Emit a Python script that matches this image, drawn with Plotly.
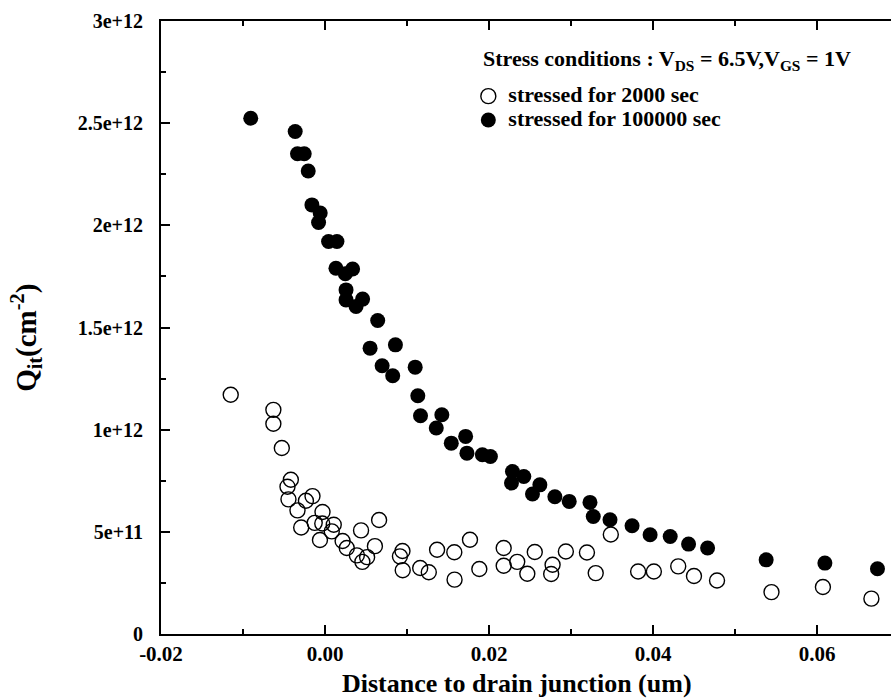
import plotly.graph_objects as go

# ---- data ----
x_2000 = [-0.01150, -0.00630, -0.00630, -0.00527, -0.00417, -0.00458, -0.00446, -0.00336,
          -0.00233, -0.00153, -0.00291, -0.00031, -0.00126, -0.00034, 0.00106, -0.00062,
          0.00082, 0.00214, 0.00265, 0.00439, 0.00659, 0.00608, 0.00388, 0.00455, 0.00513,
          0.00944, 0.00913, 0.00947, 0.01160, 0.01265, 0.01366, 0.01576, 0.01579, 0.01767,
          0.01881, 0.02178, 0.02178, 0.02343, 0.02466, 0.02557, 0.02774, 0.02757, 0.02936,
          0.03193, 0.03300, 0.03484, 0.03817, 0.04009, 0.04306, 0.04498, 0.04779, 0.05443,
          0.06070, 0.06661]
y_2000 = [1.171e12, 1.097e12, 1.029e12, 0.910e12, 0.755e12, 0.721e12, 0.659e12, 0.605e12,
          0.652e12, 0.675e12, 0.521e12, 0.597e12, 0.544e12, 0.541e12, 0.535e12, 0.460e12,
          0.502e12, 0.455e12, 0.421e12, 0.507e12, 0.558e12, 0.430e12, 0.385e12, 0.353e12, 0.376e12,
          0.406e12, 0.380e12, 0.312e12, 0.323e12, 0.302e12, 0.412e12, 0.400e12, 0.266e12, 0.461e12,
          0.318e12, 0.421e12, 0.334e12, 0.353e12, 0.295e12, 0.401e12, 0.339e12, 0.294e12, 0.404e12,
          0.399e12, 0.298e12, 0.487e12, 0.306e12, 0.306e12, 0.331e12, 0.284e12, 0.262e12, 0.205e12,
          0.230e12, 0.173e12]

x_100000 = [-0.00906, -0.00364, -0.00336, -0.00254, -0.00205, -0.00160, -0.00059, -0.00079,
            0.00043, 0.00145, 0.00133, 0.00247, 0.00336, 0.00256, 0.00256, 0.00458, 0.00378,
            0.00642, 0.00549, 0.00858, 0.00696, 0.00825, 0.01099, 0.01131, 0.01164, 0.01424,
            0.01356, 0.01539, 0.01714, 0.01730, 0.01918, 0.02016, 0.02285, 0.02273, 0.02423,
            0.02619, 0.02529, 0.02802, 0.02977, 0.03230, 0.03270, 0.03474, 0.03743, 0.03963,
            0.04208, 0.04432, 0.04664, 0.05378, 0.06094, 0.06735]
y_100000 = [2.524e12, 2.459e12, 2.350e12, 2.350e12, 2.266e12, 2.100e12, 2.060e12, 2.014e12,
            1.921e12, 1.921e12, 1.790e12, 1.763e12, 1.786e12, 1.684e12, 1.635e12, 1.639e12, 1.603e12,
            1.534e12, 1.399e12, 1.415e12, 1.313e12, 1.264e12, 1.306e12, 1.166e12, 1.068e12, 1.073e12,
            1.008e12, 0.934e12, 0.967e12, 0.885e12, 0.877e12, 0.869e12, 0.795e12, 0.739e12, 0.771e12,
            0.730e12, 0.685e12, 0.672e12, 0.649e12, 0.644e12, 0.575e12, 0.559e12, 0.530e12, 0.486e12,
            0.477e12, 0.440e12, 0.421e12, 0.363e12, 0.347e12, 0.319e12]

x_tickvals = [-0.02, 0.00, 0.02, 0.04, 0.06]
x_ticktext = ["-0.02", "0.00", "0.02", "0.04", "0.06"]
y_tickvals = [0, 5e11, 1e12, 1.5e12, 2e12, 2.5e12, 3e12]
y_ticktext = ["0", "5e+11", "1e+12", "1.5e+12", "2e+12", "2.5e+12", "3e+12"]

series_names = ["stressed for 2000 sec", "stressed for 100000 sec"]
legend_title = "Stress conditions : V<sub>DS</sub> = 6.5V,V<sub>GS</sub> = 1V"
x_title = "Distance to drain junction (um)"
y_title = "Q<sub>it</sub>(cm<sup>-2</sup>)"

FONT = "Liberation Serif"


def lbl(t):
    return "<span style='font-size:22px'>" + t + "</span>"


fig = go.Figure()
fig.add_trace(go.Scatter(
    x=x_2000, y=y_2000, mode="markers", name=lbl(series_names[0]),
    marker=dict(symbol="circle-open", size=15, color="black", line=dict(width=1.4, color="black")),
))
fig.add_trace(go.Scatter(
    x=x_100000, y=y_100000, mode="markers", name=lbl(series_names[1]),
    marker=dict(symbol="circle", size=15, color="black", line=dict(width=0)),
))

fig.update_layout(
    width=891, height=698,
    margin=dict(l=161, r=0, t=21, b=64),
    paper_bgcolor="white", plot_bgcolor="white",
    showlegend=True,
    legend=dict(x=0.421, y=0.905, xanchor="left", yanchor="top",
                bgcolor="rgba(0,0,0,0)", borderwidth=0,
                font=dict(family=FONT, size=16, color="black", weight="bold"),
                tracegroupgap=0, itemwidth=30),
    xaxis=dict(
        range=[-0.02, 0.069], showgrid=False, zeroline=False,
        showline=True, linewidth=2, linecolor="black", mirror="ticks",
        ticks="inside", ticklen=9, tickwidth=1.5, tickcolor="black",
        tickvals=x_tickvals, ticktext=x_ticktext,
        tickfont=dict(family=FONT, size=21, color="black", weight="bold"),
        ticklabelstandoff=0,
        minor=dict(ticks="inside", dtick=0.01, tick0=0, ticklen=5, tickwidth=1.5, tickcolor="black"),
    ),
    yaxis=dict(
        range=[0, 3e12], showgrid=False, zeroline=False,
        showline=True, linewidth=2, linecolor="black", mirror=False,
        ticks="inside", ticklen=9, tickwidth=1.5, tickcolor="black",
        tickvals=y_tickvals, ticktext=y_ticktext,
        tickfont=dict(family=FONT, size=20, color="black", weight="bold"),
        ticklabelstandoff=12,
        minor=dict(ticks="inside", dtick=2.5e11, tick0=0, ticklen=5, tickwidth=1.5, tickcolor="black"),
    ),
    annotations=[
        dict(text=legend_title, xref="paper", yref="paper", x=0.438, y=0.937,
             xanchor="left", yanchor="middle", showarrow=False,
             font=dict(family=FONT, size=22, color="black", weight="bold")),
        dict(text=x_title, xref="paper", yref="paper", x=0.487, y=-0.081,
             xanchor="center", yanchor="middle", showarrow=False,
             font=dict(family=FONT, size=26, color="black", weight="bold")),
        dict(text=y_title, xref="paper", yref="paper", x=-0.185, y=0.483, textangle=-90,
             xanchor="center", yanchor="middle", showarrow=False,
             font=dict(family=FONT, size=29, color="black", weight="bold")),
    ],
)

fig.write_html("out.html", config={"displayModeBar": False})
